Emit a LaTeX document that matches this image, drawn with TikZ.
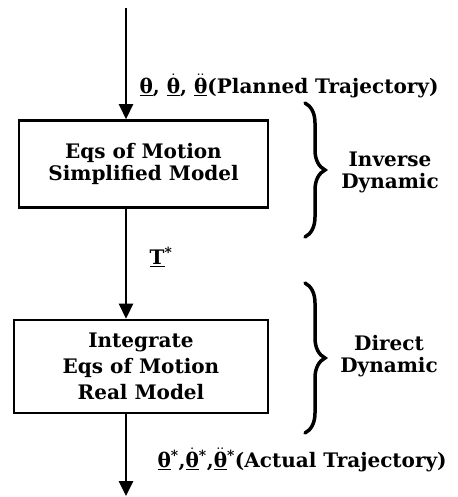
\documentclass[tikz,border=0pt]{standalone}
\usepackage{fontspec}
\setmainfont{DejaVu Serif}
\usetikzlibrary{positioning,decorations.pathreplacing,arrows.meta}
\newcommand{\uth}[1]{$\underline{#1{\hbox{θ}}}$}

\begin{document}
\begin{tikzpicture}[x=1pt, y=-1pt, >={Triangle[length=15pt,width=14pt]}, font=\bfseries\fontsize{20}{22}\selectfont]
        % Styles
        \tikzset{block/.style={rectangle, draw, line width=2.6pt, align=center}}
        \tikzset{flow/.style={->, line width=2.6pt}}
        \tikzset{curly/.style={decorate, decoration={brace, amplitude=20pt}, line width=3.5pt, line cap=round}}
        \tikzset{side/.style={align=center}}
        \useasboundingbox (0,0) rectangle (457,497);

        % Blocks
        \node[block, minimum width=249pt, minimum height=87pt] (inverse) at (143.5,164) {Eqs of Motion\\Simplified Model};
        \node[block, minimum width=254pt, minimum height=93pt, font=\bfseries\fontsize{20}{26}\selectfont] (direct) at (141,366.5) {Integrate\\Eqs of Motion\\Real Model};

        % Signals
        \coordinate (in) at (126,8);
        \coordinate (out) at (126,496);
        \node[anchor=west] (planned) at (136,86) {\uth{}, \uth{\dot}, \uth{\ddot}(Planned Trajectory)};
        \node (torque) at (161,257) {\underline{T}\textsuperscript{*}};
        \node[anchor=west] (actual) at (154,460) {\uth{}\textsuperscript{*},\uth{\dot}\textsuperscript{*},\uth{\ddot}\textsuperscript{*}(Actual Trajectory)};

        % Sides
        \node[side] (invlabel) at (390,172) {Inverse\\Dynamic};
        \node[side] (dirlabel) at (389,356) {Direct\\Dynamic};
        \draw[curly] (305,103) -- (305,237);
        \draw[curly] (305,283) -- (305,433);

        % Connections
        \draw[flow] (in) -- (in |- inverse.north);
        \draw[flow] (inverse.south -| in) -- (direct.north -| in);
        \draw[flow] (direct.south -| in) -- (out);
    \end{tikzpicture}
\end{document}
